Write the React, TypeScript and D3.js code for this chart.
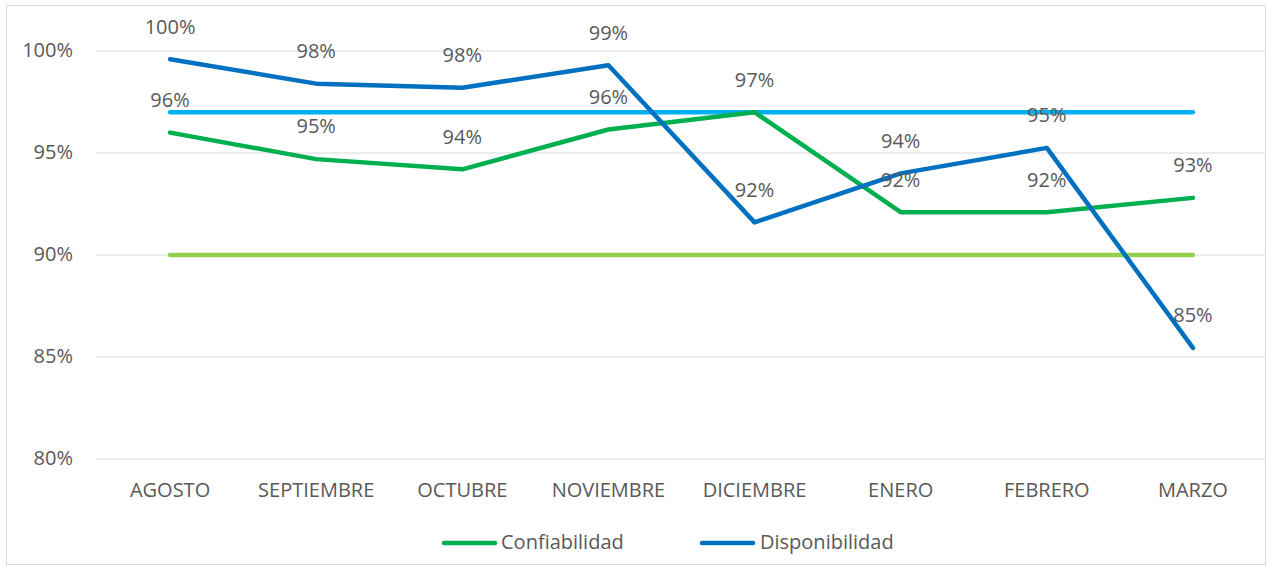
import React from "react";
import * as d3 from "d3";

const categories = ["AGOSTO", "SEPTIEMBRE", "OCTUBRE", "NOVIEMBRE", "DICIEMBRE", "ENERO", "FEBRERO", "MARZO"];
const confiabilidad = [96.0, 94.7, 94.2, 96.15, 97.0, 92.1, 92.1, 92.8];
const disponibilidad = [99.6, 98.4, 98.2, 99.3, 91.6, 94.0, 95.25, 85.45];
const metaDisponibilidad = [97, 97, 97, 97, 97, 97, 97, 97];
const metaConfiabilidad = [90, 90, 90, 90, 90, 90, 90, 90];
const yTicks = [80, 85, 90, 95, 100];

const W = 1268, H = 567;
const FONT = "'Open Sans', 'Noto Sans', sans-serif";
const TXT = "#595959";
const FS = 20;

export default function App() {
  const x = d3.scaleBand<string>().domain(categories).range([97, 1266]);
  const cx = (c: string) => (x(c) as number) + x.bandwidth() / 2;
  const y = d3.scaleLinear().domain([80, 100]).range([459, 51]);
  const line = d3.line<number>().x((_, i) => cx(categories[i])).y((v) => y(v));

  const series = [
    { data: metaConfiabilidad, color: "#92D050" },
    { data: metaDisponibilidad, color: "#00B0F0" },
    { data: confiabilidad, color: "#00B050" },
    { data: disponibilidad, color: "#0070C0" },
  ];

  return (
    <svg width={W} height={H} style={{ display: "block", position: "absolute", left: 0, top: 0 }} fontFamily={FONT}>
      <rect x={0} y={0} width={W} height={H} fill="#fff" />
      <rect x={6.5} y={5.5} width={1259} height={559} fill="none" stroke="#d9d9d9" strokeWidth={1} />
      {yTicks.map((t) => (
        <g key={t}>
          <line x1={97} x2={1266} y1={y(t)} y2={y(t)} stroke="#d9d9d9" strokeWidth={1} />
          <text x={73} y={y(t) + 1} textAnchor="end" dominantBaseline="middle" fontSize={FS} fill={TXT}>
            {t}%
          </text>
        </g>
      ))}
      {categories.map((c) => (
        <text key={c} x={cx(c)} y={492} textAnchor="middle" dominantBaseline="middle" fontSize={FS} fill={TXT}>
          {c}
        </text>
      ))}
      {series.map((s, i) => (
        <path key={i} d={line(s.data) as string} fill="none" stroke={s.color} strokeWidth={4.5} strokeLinecap="round" strokeLinejoin="round" />
      ))}
      {[confiabilidad, disponibilidad].map((data, si) =>
        data.map((v, i) => (
          <text key={`${si}-${i}`} x={cx(categories[i])} y={y(v) - 31} textAnchor="middle" dominantBaseline="middle" fontSize={FS} fill={TXT}>
            {Math.round(v)}%
          </text>
        ))
      )}
      <g>
        <line x1={444} x2={495} y1={543} y2={543} stroke="#00B050" strokeWidth={4.5} strokeLinecap="round" />
        <text x={501} y={544} dominantBaseline="middle" fontSize={FS} fill={TXT}>Confiabilidad</text>
        <line x1={702} x2={753} y1={543} y2={543} stroke="#0070C0" strokeWidth={4.5} strokeLinecap="round" />
        <text x={760} y={544} dominantBaseline="middle" fontSize={FS} fill={TXT}>Disponibilidad</text>
      </g>
    </svg>
  );
}
